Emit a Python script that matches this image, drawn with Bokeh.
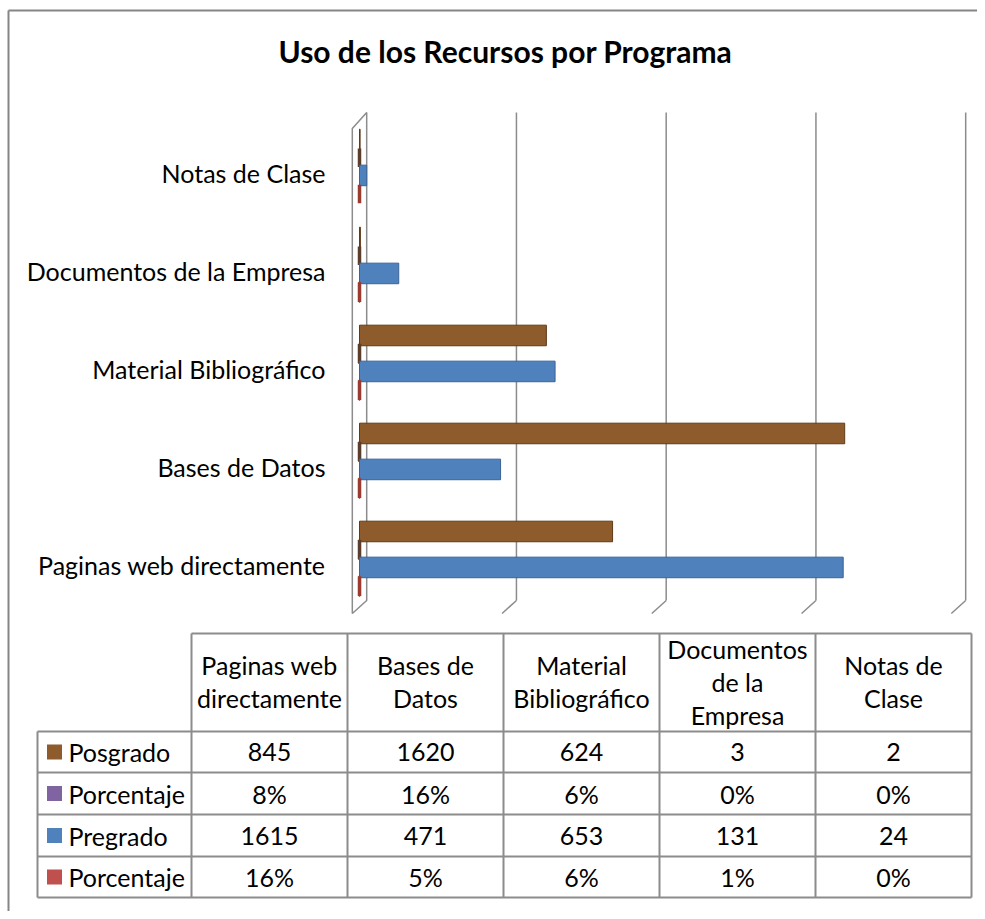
from bokeh.plotting import figure
from bokeh.models import Range1d
from bokeh.core.properties import value
from bokeh.embed import file_html
from bokeh.resources import INLINE

# ---------------- data ----------------
categories = ["Paginas web directamente", "Bases de Datos", "Material Bibliográfico",
              "Documentos de la Empresa", "Notas de Clase"]
header_labels = ["Paginas web\ndirectamente", "Bases de\nDatos", "Material\nBibliográfico",
                 "Documentos\nde la\nEmpresa", "Notas de\nClase"]
series_names = ["Posgrado", "Porcentaje", "Pregrado", "Porcentaje"]
posgrado = [845, 1620, 624, 3, 2]
porc_posgrado = [0.08, 0.16, 0.06, 0.00, 0.00]
pregrado = [1615, 471, 653, 131, 24]
porc_pregrado = [0.16, 0.05, 0.06, 0.01, 0.00]
grid_values = [500, 1000, 1500, 2000]
title_text = "Uso de los Recursos por Programa"

# ---------------- styles ----------------
FONT = "Lato"
FS = "25px"
C_POS = "#8d5b2c"
C_POS_D = "#5e3a18"
C_PUR = "#8064A2"
C_BLU = "#4F81BD"
C_BLU_D = "#3a6396"
C_RED = "#C0504D"
GRID_C = "#8c8c8c"
TXT = "#000000"

W, H = 977, 911
p = figure(width=W, height=H, x_range=Range1d(0, W), y_range=Range1d(H, 0),
           output_backend="svg", toolbar_location=None, min_border=0,
           x_axis_location=None, y_axis_location=None, outline_line_color=None,
           background_fill_color="white", border_fill_color="white")
p.grid.grid_line_color = None

# value scale and category scale for the bar area
k = 0.2995  # px per unit
x0 = 359    # px position of value 0
p.extra_x_ranges = {"val": Range1d(-x0 / k, (W - x0) / k)}
grp = 98.0
c0 = 564.0
p.extra_y_ranges = {"cat": Range1d(-(H - c0) / grp, c0 / grp)}

# outer border (left and top)
p.segment(x0=[8, 8], y0=[10, 10], x1=[8, W], y1=[H, 10], line_color="#858585", line_width=2)

# title
p.text(x=[505], y=[50], text=[title_text], text_font=value(FONT), text_font_size="30px",
       text_font_style="bold", text_align="center", text_baseline="middle", text_color=TXT)

# 3D walls / gridlines
d = 24  # depth half in value units
gt, gb, gd = 112, 600, 613
p.patch(x=[-d, d, d, -d], y=[128, gt, gb, gd], fill_color="white",
        line_color=GRID_C, line_width=1.5, x_range_name="val")
p.segment(x0=[v + d for v in grid_values], y0=[gt] * len(grid_values),
          x1=[v + d for v in grid_values], y1=[gb] * len(grid_values),
          line_color=GRID_C, line_width=1.5, x_range_name="val")
p.segment(x0=[v + d for v in grid_values], y0=[gb] * len(grid_values),
          x1=[v - d for v in grid_values], y1=[gd] * len(grid_values),
          line_color=GRID_C, line_width=1.5, x_range_name="val")

idx = list(range(len(categories)))
# bars
p.hbar(y=[i + 0.337 for i in idx], left=0, right=posgrado, height=0.21,
       fill_color=C_POS, line_color=C_POS_D, line_width=1,
       x_range_name="val", y_range_name="cat")
p.hbar(y=[i + 0.15 for i in idx], left=0, right=porc_posgrado, height=0.19,
       fill_color=C_PUR, line_color="#5a3d2a", line_width=3.5,
       x_range_name="val", y_range_name="cat")
p.hbar(y=[i - 0.03 for i in idx], left=0, right=pregrado, height=0.21,
       fill_color=C_BLU, line_color=C_BLU_D, line_width=1,
       x_range_name="val", y_range_name="cat")
p.hbar(y=[i - 0.22 for i in idx], left=0, right=porc_pregrado, height=0.19,
       fill_color=C_RED, line_color="#9b3b30", line_width=3.5,
       x_range_name="val", y_range_name="cat")

# category labels
p.text(x=[325] * len(categories), y=idx, text=categories, y_range_name="cat",
       text_font=value(FONT), text_font_size=FS, text_align="right",
       text_baseline="middle", text_color=TXT)

# ---------------- data table ----------------
col_x = [191, 347, 503, 659, 815, 971]
leg_l = 37
row_y = [633, 731, 772, 814, 856, 897]

hx0 = [col_x[0]] + [leg_l] * 5
hx1 = [col_x[-1]] * 6
hy = row_y
p.segment(x0=hx0, y0=hy, x1=hx1, y1=hy, line_color=GRID_C, line_width=2)
vx = [leg_l] + col_x
vy0 = [row_y[1]] + [row_y[0]] * len(col_x)
p.segment(x0=vx, y0=vy0, x1=vx, y1=[row_y[-1]] * len(vx), line_color=GRID_C, line_width=2)

cx = [(col_x[i] + col_x[i + 1]) / 2 for i in range(5)]
p.text(x=cx, y=[(row_y[0] + row_y[1]) / 2 - 1] * 5, text=header_labels,
       text_font=value(FONT), text_font_size=FS, text_align="center",
       text_baseline="middle", text_line_height=1.1, text_color=TXT)

rows = [
    [str(v) for v in posgrado],
    [f"{round(v * 100)}%" for v in porc_posgrado],
    [str(v) for v in pregrado],
    [f"{round(v * 100)}%" for v in porc_pregrado],
]
swatch_colors = [C_POS, C_PUR, C_BLU, C_RED]
for r, vals in enumerate(rows):
    yc = (row_y[r + 1] + row_y[r + 2]) / 2
    p.text(x=cx, y=[yc] * 5, text=vals, text_font=value(FONT), text_font_size=FS,
           text_align="center", text_baseline="middle", text_color=TXT)
    p.rect(x=[54], y=[yc], width=15, height=15, fill_color=swatch_colors[r], line_color=None)
    p.text(x=[68], y=[yc], text=[series_names[r]], text_font=value(FONT),
           text_font_size=FS, text_align="left", text_baseline="middle", text_color=TXT)

open("out.html", "w").write(file_html(p, INLINE))
